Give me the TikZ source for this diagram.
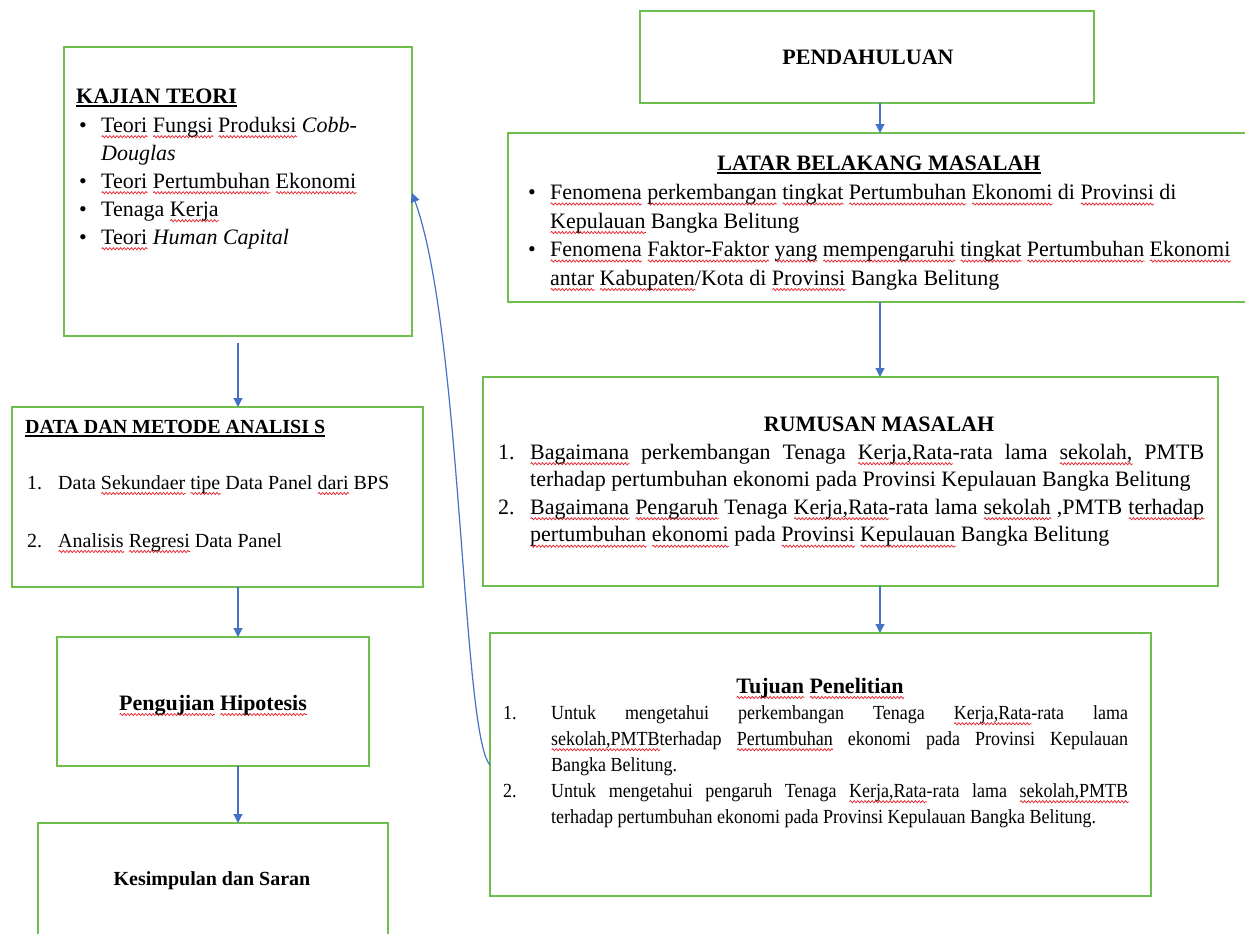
\documentclass[tikz,border=0pt]{standalone}
\usepackage{xcolor}
\usepackage{fontspec}
\setmainfont{Liberation Serif}
\newfontfamily\narrowfont[FakeStretch=0.9]{Liberation Serif}
\usetikzlibrary{arrows.meta,decorations.pathmorphing}

\definecolor{boxgreen}{RGB}{112,190,78}
\definecolor{arrowblue}{RGB}{68,114,196}
\definecolor{wavered}{RGB}{232,30,40}

\newsavebox{\sqbox}
\newlength{\sqwd}
\newcommand{\sq}[1]{\sbox{\sqbox}{#1}\setlength{\sqwd}{\wd\sqbox}%
    \rlap{\tikz[baseline=0pt,x=1pt,y=1pt]\draw[wavered,line width=0.7pt,decorate,decoration={snake,amplitude=1.1pt,segment length=3.6pt}] (0,-4.5) -- (\sqwd,-4.5);}\usebox{\sqbox}}
\newcommand{\hd}[1]{\sbox{\sqbox}{#1}\setlength{\sqwd}{\wd\sqbox}%
    \rlap{\rule[-3.5pt]{\sqwd}{1.6pt}}\usebox{\sqbox}}
\newcommand{\bul}{\makebox[22pt][l]{\textbullet}}

\tikzset{
    box/.style={draw=boxgreen, line width=1.5pt, inner sep=0pt, outer sep=0pt, anchor=north west},
    head/.style={font=\fontsize{22}{26}\selectfont\bfseries, inner sep=0pt, anchor=base},
    body/.style={font=\fontsize{22}{28}\selectfont, inner sep=0pt, align=left, anchor=north west},
    arr/.style={draw=arrowblue, line width=1.2pt, -{Triangle[length=9pt,width=9pt]}}
}

\begin{document}
\begin{tikzpicture}[x=1pt,y=-1pt]
            \useasboundingbox (0,0) rectangle (1245,934);
            \clip (0,0) rectangle (1245,934);

            \node[box, minimum width=454pt, minimum height=92pt] (pend) at (640,11) {};
            \node[box, minimum width=760pt, minimum height=169pt] (latar) at (508,133) {};
            \node[box, minimum width=735pt, minimum height=209pt] (rumus) at (483,377) {};
            \node[box, minimum width=661pt, minimum height=263pt] (tujuan) at (490,633) {};
            \node[box, minimum width=348pt, minimum height=289pt] (kajian) at (64,47) {};
            \node[box, minimum width=411pt, minimum height=180pt] (data) at (12,407) {};
            \node[box, minimum width=312pt, minimum height=129pt] (uji) at (57,637) {};
            \node[box, minimum width=350pt, minimum height=150pt] (simpul) at (38,823) {};

            \node[head] (pendt) at (868,65) {PENDAHULUAN};

            \node[head] (latart) at (879,170) {\hd{LATAR BELAKANG MASALAH}};
            \node[body, font=\fontsize{22}{28.5}\selectfont] (latarb) at (528,179.4) {%
                \strut\bul\sq{Fenomena} \sq{perkembangan} \sq{tingkat} \sq{Pertumbuhan} \sq{Ekonomi} di \sq{Provinsi} di\\
                \strut\hspace*{22pt}\sq{Kepulauan} Bangka Belitung\\
                \strut\bul\sq{Fenomena} \sq{Faktor-Faktor} \sq{yang} \sq{mempengaruhi} \sq{tingkat} \sq{Pertumbuhan} \sq{Ekonomi}\\
                \strut\hspace*{22pt}\sq{antar} \sq{Kabupaten}/Kota di \sq{Provinsi} Bangka Belitung};

            \node[head] (rumust) at (879,431) {RUMUSAN MASALAH};
            \node[body, font=\fontsize{22}{27.5}\selectfont] (rumusb) at (498,439.75) {%
                \strut\makebox[32pt][l]{1.}\makebox[674pt][s]{\sq{Bagaimana} perkembangan Tenaga \sq{Kerja,Rata}-rata lama \sq{sekolah,} PMTB}\\
                \strut\hspace*{32pt}terhadap pertumbuhan ekonomi pada Provinsi Kepulauan Bangka Belitung\\
                \strut\makebox[32pt][l]{2.}\makebox[674pt][s]{\sq{Bagaimana} \sq{Pengaruh} Tenaga \sq{Kerja,Rata}-rata lama \sq{sekolah} ,PMTB \sq{terhadap}}\\
                \strut\hspace*{32pt}\sq{pertumbuhan} \sq{ekonomi} pada \sq{Provinsi} \sq{Kepulauan} Bangka Belitung};

            \node[head] (tujuant) at (820,693) {\sq{Tujuan} \sq{Penelitian}};
            \node[body, font=\narrowfont\fontsize{20}{26}\selectfont] (tujuanb) at (503,700.8) {%
                \strut\makebox[48pt][l]{1.}\makebox[577pt][s]{Untuk mengetahui perkembangan Tenaga \sq{Kerja,Rata}-rata lama}\\
                \strut\hspace*{48pt}\makebox[577pt][s]{\sq{sekolah,PMTB}terhadap \sq{Pertumbuhan} ekonomi pada Provinsi Kepulauan}\\
                \strut\hspace*{48pt}Bangka Belitung.\\
                \strut\makebox[48pt][l]{2.}\makebox[577pt][s]{Untuk mengetahui pengaruh Tenaga \sq{Kerja,Rata}-rata lama \sq{sekolah,PMTB}}\\
                \strut\hspace*{48pt}terhadap pertumbuhan ekonomi pada Provinsi Kepulauan Bangka Belitung.};

            \node[head, anchor=base west] (kajiant) at (76,103) {\hd{KAJIAN TEORI}};
            \node[body] (kajianb) at (79,112.4) {%
                \strut\bul\sq{Teori} \sq{Fungsi} \sq{Produksi} \textit{Cobb-}\\
                \strut\hspace*{22pt}\textit{Douglas}\\
                \strut\bul\sq{Teori} \sq{Pertumbuhan} \sq{Ekonomi}\\
                \strut\bul Tenaga \sq{Kerja}\\
                \strut\bul\sq{Teori} \textit{Human Capital}};

            \node[head, font=\fontsize{20}{24}\selectfont\bfseries, anchor=base west] (datat) at (25,433) {\hd{DATA DAN METODE ANALISI S}};
            \node[anchor=base west, inner sep=0pt, font=\fontsize{20}{24}\selectfont] (data1) at (27,489) {\makebox[31pt][l]{1.}Data \sq{Sekundaer} \sq{tipe} Data Panel \sq{dari} BPS};
            \node[anchor=base west, inner sep=0pt, font=\fontsize{20}{24}\selectfont] (data2) at (27,547) {\makebox[31pt][l]{2.}\sq{Analisis} \sq{Regresi} Data Panel};

            \node[head] (ujit) at (213,710) {\sq{Pengujian} \sq{Hipotesis}};
            \node[head, font=\fontsize{20}{24}\selectfont\bfseries] (simpult) at (212,885) {Kesimpulan dan Saran};

            \coordinate (rcol) at (880,0);
            \coordinate (lcol) at (238,0);
            \draw[arr] (pend.south -| rcol) -- (latar.north -| rcol);
            \draw[arr] (latar.south -| rcol) -- (rumus.north -| rcol);
            \draw[arr] (rumus.south -| rcol) -- (tujuan.north -| rcol);
            \draw[arr, shorten <=7pt] (kajian.south -| lcol) -- (data.north -| lcol);
            \draw[arr] (data.south -| lcol) -- (uji.north -| lcol);
            \draw[arr] (uji.south -| lcol) -- (simpul.north -| lcol);
            \draw[arr] (tujuan.west |- 0,765) .. controls (462,735) and (462,330) .. (kajian.east |- 0,193);
\end{tikzpicture}
\end{document}
